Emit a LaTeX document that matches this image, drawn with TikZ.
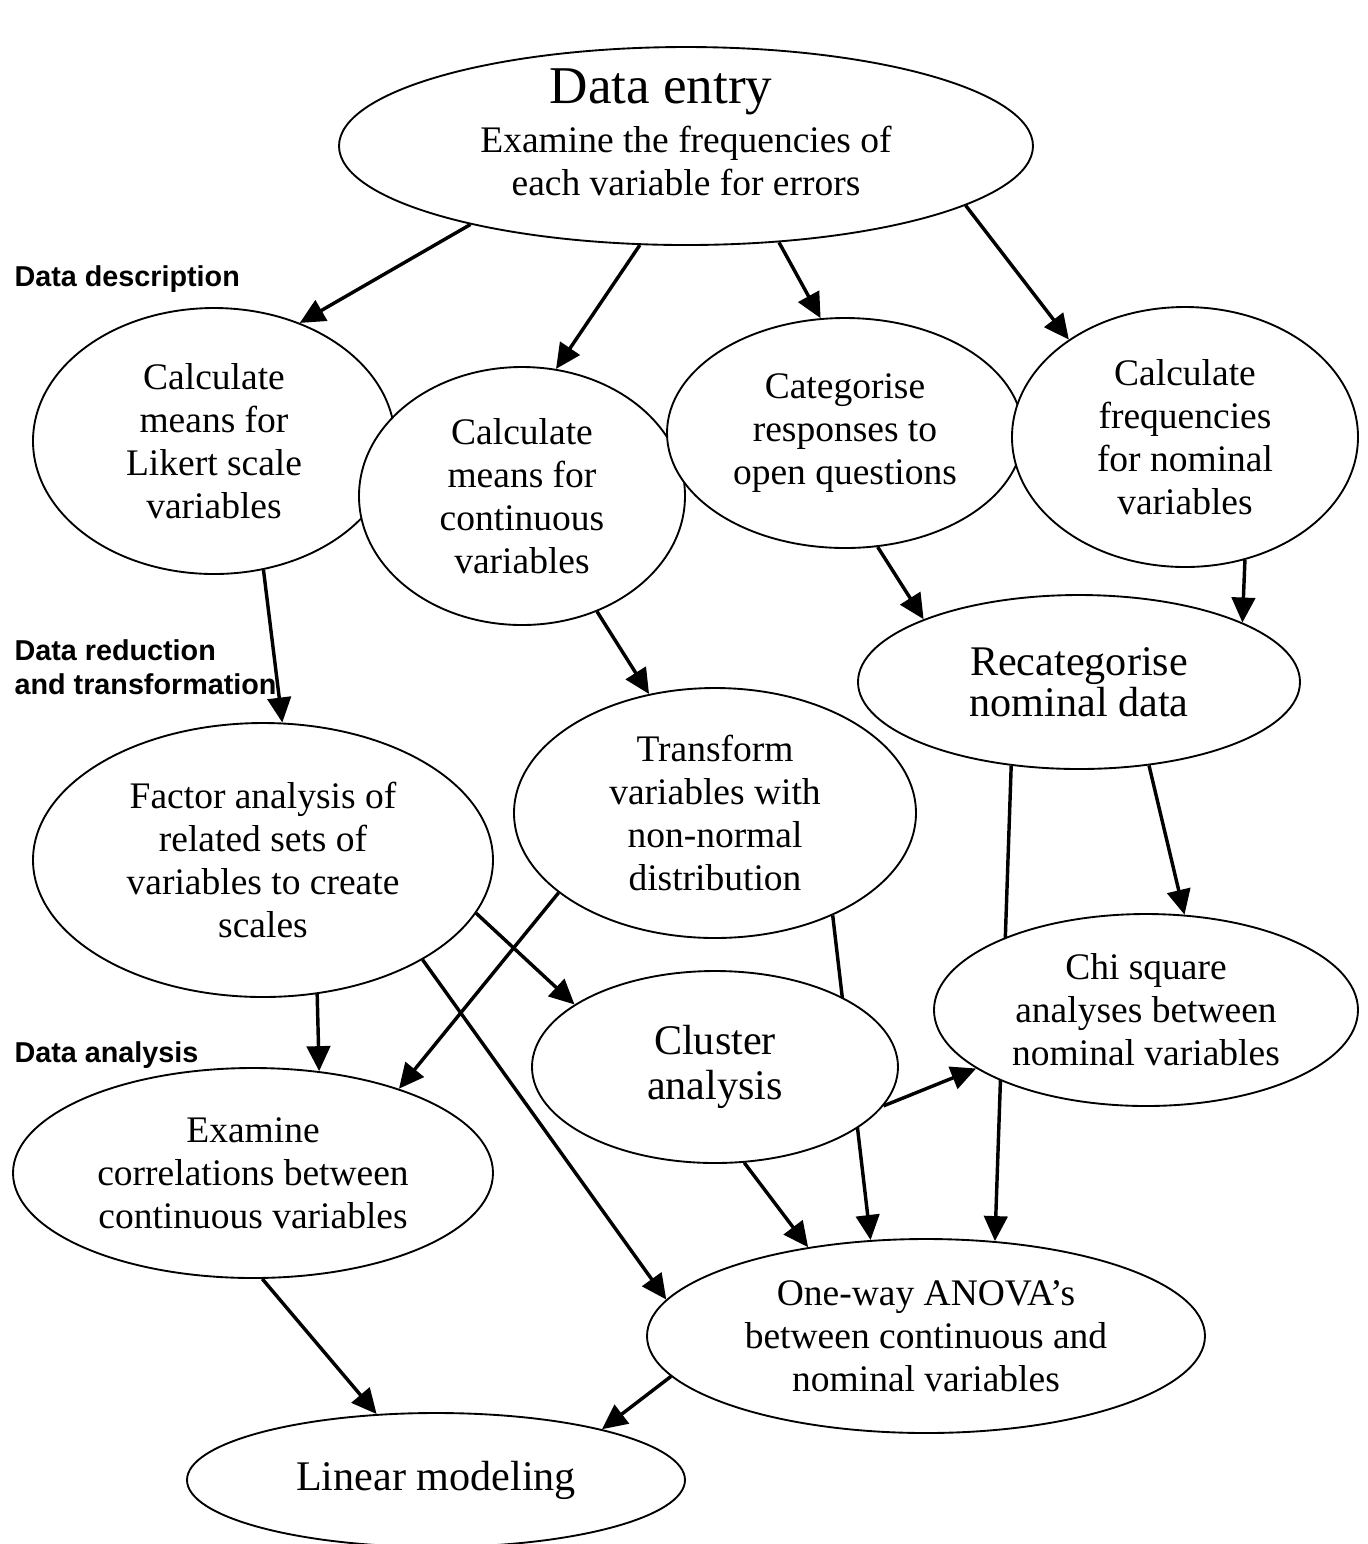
\documentclass[tikz,border=0pt]{standalone}
\usepackage{fontspec}
\setmainfont{Liberation Serif}
\newfontfamily\stagefont{Liberation Sans}
\usetikzlibrary{shapes.geometric}
\usetikzlibrary{arrows.meta}
\usetikzlibrary{backgrounds}

\begin{document}
\begin{tikzpicture}[
x=0.32pt, y=-0.32pt,
bubble/.style 2 args ={ellipse, draw, line width=0.6pt, fill=white,
  minimum width=#1*0.64pt, minimum height=#2*0.64pt,
  inner sep=0pt, align=center, font=\fontsize{12}{13.8}\selectfont},
big/.style ={font=\fontsize{13.5}{14.4}\selectfont},
stage/.style ={anchor=west, align=left, inner sep=0pt,
  font=\stagefont\bfseries\fontsize{9.2}{10.9}\selectfont},
line/.style ={line width=1.1pt, -{Triangle[length=8pt,width=7.5pt]}}
]
\useasboundingbox (0,0) rectangle (1367,1544);

\node[stage] (descr) at (14,279) {Data description};
\node[stage] (reduce) at (14,667) {Data reduction\\and transformation};
\node[stage] (analysis) at (14,1055) {Data analysis};

\node[bubble={347}{99}, inner ysep=-3pt] (entry) at (686,146)
  {{\fontsize{17}{17}\selectfont Data entry\hspace*{16pt}}\\[1.8pt]
   Examine the frequencies of\\each variable for errors\rule[-9pt]{0pt}{9pt}};
\node[bubble={181}{133}] (likert) at (214,441) {Calculate\\means for\\Likert scale\\variables};
\node[bubble={163}{129}] (cont) at (522,496) {Calculate\\means for\\continuous\\variables};
\node[bubble={178}{115}] (categ) at (845,433) {Categorise\\responses to\\open questions};
\node[bubble={173}{130}] (freq) at (1185,437) {Calculate\\frequencies\\for nominal\\variables};
\node[bubble={221}{87}, font=\fontsize{13.5}{13.3}\selectfont] (recat) at (1079,682) {Recategorise\\nominal data};
\node[bubble={230}{137}] (factor) at (263,860) {Factor analysis of\\related sets of\\variables to create\\scales};
\node[bubble={201}{125}] (transf) at (715,813) {Transform\\variables with\\non-normal\\distribution};
\node[bubble={183}{96}, big] (cluster) at (715,1067) {Cluster\\analysis};
\node[bubble={212}{96}] (chi) at (1146,1010) {Chi square\\analyses between\\nominal variables};
\node[bubble={240}{105}] (examine) at (253,1173) {Examine\\correlations between\\continuous variables};
\node[bubble={279}{97}] (anova) at (926,1336) {One-way ANOVA’s\\between continuous and\\nominal variables};
\node[bubble={249}{67}, big] (linear) at (436,1480) {Linear modeling};

\begin{pgfonlayer}{background}
\path[line]
(entry.200) edge (likert.54)
(entry.245) edge (cont.75)
(entry.314) edge (categ.102)
(entry.348) edge (freq.140)
(likert.291) edge (factor.82)
(cont.303) edge (transf.119)
(categ.286) edge (recat.158)
(freq.296) edge (recat.20)
(recat.310) edge (chi.68)
(recat.231) edge (anova.54)
(transf.319) edge (anova.120)
(factor.346) edge (cluster.156)
(transf.207) edge (examine.30)
(factor.292) edge (examine.57)
(factor.328) edge (anova.172)
(cluster.347) edge (chi.199)
(cluster.287) edge (anova.143)
(examine.275) edge (linear.132)
(anova.189) edge (linear.17)
;
\end{pgfonlayer}
\end{tikzpicture}
\end{document}
